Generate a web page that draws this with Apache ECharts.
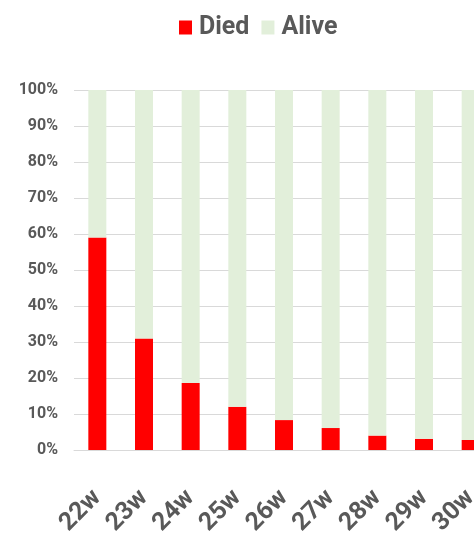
<!DOCTYPE html>
<html><head><meta charset="utf-8">
<script src="https://cdn.jsdelivr.net/npm/echarts@6/dist/echarts.min.js"></script>
<style>html,body{margin:0;padding:0;background:#fff}#c{width:474px;height:541px}</style>
</head><body><div id="c"></div>
<script>
const categories = ['22w','23w','24w','25w','26w','27w','28w','29w','30w'];
const died = [59, 31, 18.6, 12, 8.3, 6.1, 4.0, 3.1, 2.8];
const alive = [41, 69, 81.4, 88, 91.7, 93.9, 96.0, 96.9, 97.2];
const yTicks = [0,10,20,30,40,50,60,70,80,90,100];
const FONT = 'Roboto,"Liberation Sans",sans-serif';
const chart = echarts.init(document.getElementById('c'));
chart.setOption({
  animation:false,
  legend:{top:10,left:174,itemWidth:13,itemHeight:14,itemGap:12,icon:'rect',
    textStyle:{fontFamily:FONT,fontSize:25,fontWeight:'bold',color:'#595959',padding:[0,0,0,2]},
    data:['Died','Alive']},
  grid:{left:74,width:420,top:90,bottom:91,containLabel:false,outerBoundsMode:'none'},
  xAxis:{type:'category',data:categories,
    axisLine:{lineStyle:{color:'#d9d9d9',width:1}},axisTick:{show:false},
    axisLabel:{rotate:45,margin:44,interval:0,fontFamily:FONT,fontSize:25,fontWeight:'bold',color:'#595959'}},
  yAxis:{type:'value',min:0,max:100,interval:10,
    axisLabel:{formatter:v=>v+'%',fontFamily:FONT,fontSize:16,fontWeight:'bold',color:'#595959',margin:16},
    splitLine:{lineStyle:{color:'#d9d9d9',width:1}},axisLine:{show:false},axisTick:{show:false}},
  series:[
    {name:'Died',type:'bar',stack:'s',data:died,barWidth:18,itemStyle:{color:'#FF0000'}},
    {name:'Alive',type:'bar',stack:'s',data:alive,barWidth:18,itemStyle:{color:'#E2EFDA'}}
  ]
});
</script></body></html>
